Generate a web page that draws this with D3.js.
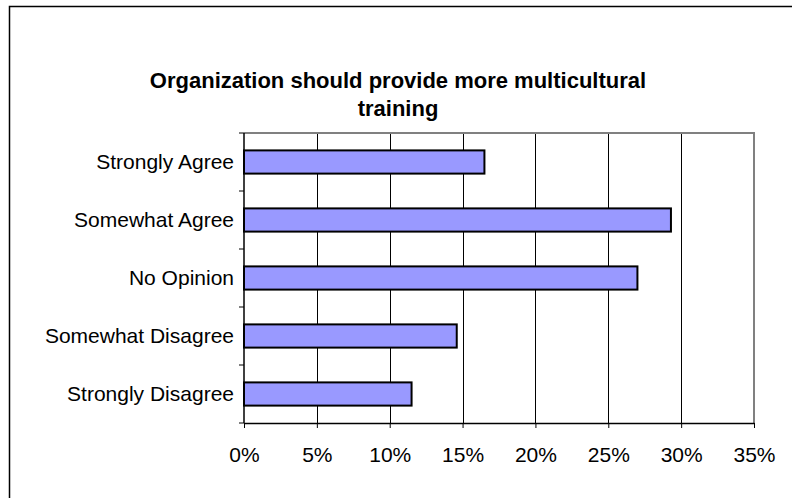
<!DOCTYPE html>
<html><head><meta charset="utf-8">
<script src="https://cdn.jsdelivr.net/npm/d3@7"></script>
<style>body{margin:0;background:#fff}svg{display:block}</style>
</head><body>
<svg id="c" width="792" height="498"></svg>
<script>
const categories = ["Strongly Agree","Somewhat Agree","No Opinion","Somewhat Disagree","Strongly Disagree"];
const values = [0.165, 0.293, 0.270, 0.146, 0.115];
const xTicks = [0,0.05,0.10,0.15,0.20,0.25,0.30,0.35];
const titleLines = ["Organization should provide more multicultural","training"];

const svg = d3.select("#c");
const font = "'Liberation Sans', Arial, sans-serif";
// outer frame
svg.append("rect").attr("x",9.5).attr("y",6.5).attr("width",800).attr("height",520)
  .attr("fill","#fff").attr("stroke","#000").attr("stroke-width",1.5);

const L=244, R=754, T=133, B=423;
const x = d3.scaleLinear().domain([0,0.35]).range([L,R]);
const y = d3.scaleBand().domain(categories).range([T,B]).paddingInner(0.6).paddingOuter(0.3);
const yb = d3.scaleBand().domain(categories).range([T,B]);

// gridlines
svg.append("g").selectAll("line").data(xTicks.slice(1,-1)).join("line")
  .attr("x1",d=>Math.round(x(d))+0.5).attr("x2",d=>Math.round(x(d))+0.5)
  .attr("y1",T).attr("y2",B).attr("stroke","#000").attr("stroke-width",1);
// plot border top/right gray
svg.append("path").attr("d",`M${L},${T} H${R} V${B}`).attr("fill","none")
  .attr("stroke","#808080").attr("stroke-width",2);

// bars
svg.append("g").selectAll("rect").data(values).join("rect")
  .attr("x",L).attr("y",(d,i)=>y(categories[i]))
  .attr("width",d=>x(d)-L).attr("height",y.bandwidth())
  .attr("fill","#9999FF").attr("stroke","#000").attr("stroke-width",2);

// y axis
const yAxisG = svg.append("g").attr("transform",`translate(${L},0)`);
yAxisG.append("line").attr("x1",0).attr("x2",0).attr("y1",T).attr("y2",B).attr("stroke","#000").attr("stroke-width",1.5);
const bounds = categories.map(c=>yb(c)).concat([B]);
yAxisG.selectAll("line.t").data(bounds).join("line").attr("class","t")
  .attr("x1",-5).attr("x2",0).attr("y1",d=>d).attr("y2",d=>d).attr("stroke","#000");
yAxisG.selectAll("text").data(categories).join("text")
  .attr("x",-10).attr("y",d=>yb(d)+yb.bandwidth()/2).attr("dy","0.35em")
  .attr("text-anchor","end").attr("font-family",font).attr("font-size",21).text(d=>d);

// x axis
const xAxis = d3.axisBottom(x).tickValues(xTicks).tickFormat(d3.format(".0%")).tickSize(5).tickSizeOuter(0);
const xg = svg.append("g").attr("transform",`translate(0,${B})`).call(xAxis);
xg.select(".domain").attr("stroke","#000").attr("stroke-width",1.5);
xg.selectAll(".tick line").attr("stroke","#000");
xg.selectAll("text").attr("font-family",font).attr("font-size",21).attr("fill","#000")
  .attr("y",32).attr("dy","0.35em");

// title
svg.append("g").selectAll("text").data(titleLines).join("text")
  .attr("x",398).attr("y",(d,i)=>88+i*28).attr("text-anchor","middle")
  .attr("font-family",font).attr("font-weight","bold").attr("font-size",22).text(d=>d);
</script>
</body></html>
